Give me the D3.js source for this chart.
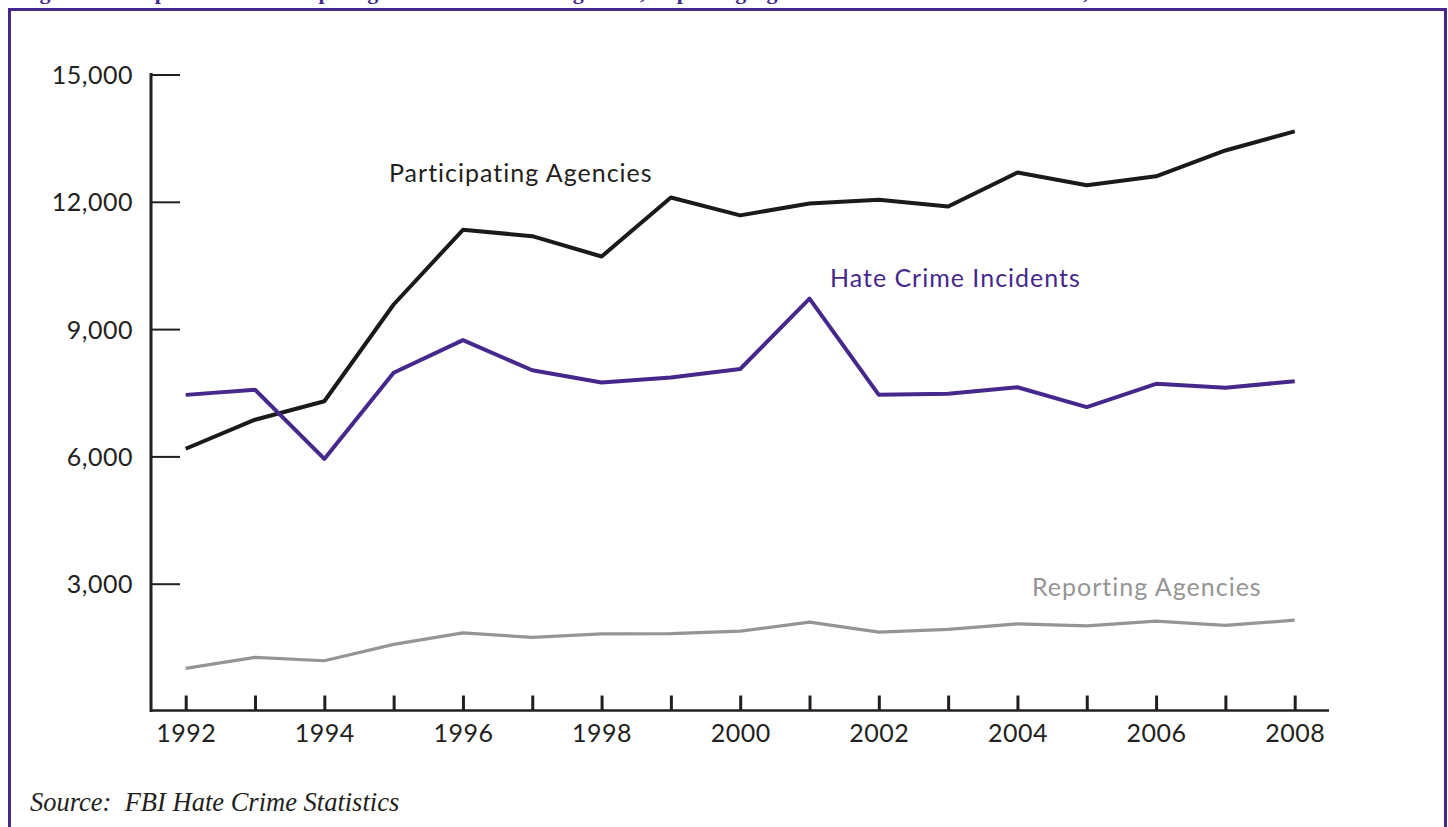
<!DOCTYPE html>
<html>
<head>
<meta charset="utf-8">
<script src="https://cdn.jsdelivr.net/npm/d3@7"></script>
<style>
  body { margin: 0; background: #fff; }
  svg { display: block; }
  .tick text { font-family: Lato, "Noto Sans", sans-serif; fill: #231f20; }
</style>
</head>
<body>
<div id="chart"></div>
<script>
// values
var years = [1992, 1993, 1994, 1995, 1996, 1997, 1998, 1999, 2000, 2001, 2002, 2003, 2004, 2005, 2006, 2007, 2008];
var participating = [6181, 6865, 7300, 9580, 11340, 11190, 10710, 12100, 11680, 11960, 12050, 11890, 12690, 12390, 12600, 13210, 13660];
var incidents = [7450, 7570, 5940, 7970, 8740, 8030, 7740, 7860, 8060, 9720, 7450, 7475, 7630, 7160, 7710, 7620, 7770];
var reporting = [1005, 1263, 1184, 1569, 1842, 1734, 1819, 1824, 1882, 2094, 1859, 1922, 2055, 2008, 2118, 2016, 2141];
var yTicks = [3000, 6000, 9000, 12000, 15000];
var xTickLabels = [1992, 1994, 1996, 1998, 2000, 2002, 2004, 2006, 2008];

var svgWidth = 1448;
var svgHeight = 827;
var purple = "#46288c";

var svg = d3.select("#chart")
  .append("svg")
  .attr("width", svgWidth)
  .attr("height", svgHeight);

// title, only its lowest part shows at the top edge as in the source figure
svg.append("text")
  .attr("x", 20)
  .attr("y", -1)
  .attr("font-family", "Liberation Serif, serif")
  .attr("font-weight", "bold")
  .attr("font-size", 22)
  .attr("fill", purple)
  .text("Figure 1. Comparison of Participating Law Enforcement Agencies, Reporting Agencies and Hate Crime Incidents, 1992–2008");

// purple frame
svg.append("rect")
  .attr("x", 9.5)
  .attr("y", 9.5)
  .attr("width", 1436)
  .attr("height", 900)
  .attr("fill", "none")
  .attr("stroke", purple)
  .attr("stroke-width", 3);

var x = d3.scaleLinear()
  .domain([1992, 2008])
  .range([185.7, 1294.7]);

var y = d3.scaleLinear()
  .domain([0, 15000])
  .range([711, 74.5]);

// y axis, ticks pointing into the plot
var yAxis = svg.append("g")
  .attr("transform", "translate(151,0)")
  .call(d3.axisRight(y).tickValues(yTicks).tickSize(29).tickFormat(d3.format(",")));
yAxis.select(".domain").remove();
yAxis.selectAll(".tick line").attr("stroke", "#231f20").attr("stroke-width", 2);
yAxis.selectAll(".tick text")
  .attr("x", -18)
  .attr("dy", "0.36em")
  .attr("text-anchor", "end")
  .attr("letter-spacing", 0.5)
  .attr("font-size", 25);

svg.append("line")
  .attr("x1", 151).attr("x2", 151)
  .attr("y1", 73).attr("y2", 712)
  .attr("stroke", "#231f20").attr("stroke-width", 3);

// x axis, ticks pointing up
var xAxis = svg.append("g")
  .attr("transform", "translate(0,710.5)")
  .call(d3.axisTop(x).tickValues(years).tickSize(15).tickFormat(""));
xAxis.select(".domain").remove();
xAxis.selectAll(".tick line").attr("stroke", "#231f20").attr("stroke-width", 3);

svg.append("line")
  .attr("x1", 150).attr("x2", 1329)
  .attr("y1", 710.5).attr("y2", 710.5)
  .attr("stroke", "#231f20").attr("stroke-width", 2.5);

var xLabels = svg.append("g")
  .attr("transform", "translate(0,710.5)")
  .call(d3.axisBottom(x).tickValues(xTickLabels).tickSize(0).tickFormat(d3.format("d")));
xLabels.select(".domain").remove();
xLabels.selectAll(".tick text")
  .attr("y", 31)
  .attr("dy", 0)
  .attr("letter-spacing", 0.5)
  .attr("font-size", 25);

var line = d3.line()
  .x((d, i) => x(years[i]))
  .y(d => y(d));

var series = [
  { values: reporting, color: "#959595", width: 3.2 },
  { values: participating, color: "#1a1a1a", width: 4 },
  { values: incidents, color: purple, width: 4 }
];

series.forEach(function(s) {
  svg.append("path")
    .datum(s.values)
    .attr("fill", "none")
    .attr("stroke", s.color)
    .attr("stroke-width", s.width)
    .attr("stroke-linejoin", "round")
    .attr("d", line);
});

// series labels
var labels = [
  { text: "Participating Agencies", x: 389, y: 182, color: "#231f20" },
  { text: "Hate Crime Incidents", x: 830, y: 287, color: purple },
  { text: "Reporting Agencies", x: 1032, y: 596, color: "#959595" }
];

svg.selectAll(".series-label")
  .data(labels)
  .enter()
  .append("text")
  .attr("class", "series-label")
  .attr("x", d => d.x)
  .attr("y", d => d.y)
  .attr("font-family", "Lato, 'Noto Sans', sans-serif")
  .attr("font-size", 25)
  .attr("letter-spacing", 1)
  .attr("fill", d => d.color)
  .text(d => d.text);

svg.append("text")
  .attr("x", 30)
  .attr("y", 811)
  .attr("font-family", "Liberation Serif, serif")
  .attr("font-style", "italic")
  .attr("font-size", 26.5)
  .attr("fill", "#231f20")
  .attr("xml:space", "preserve")
  .text("Source:  FBI Hate Crime Statistics");
</script>
</body>
</html>
